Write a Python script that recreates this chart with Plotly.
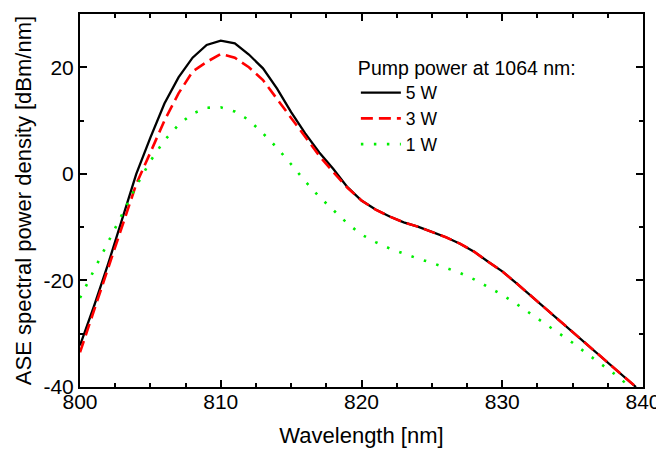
import plotly.graph_objects as go

wavelength = [800, 801, 802, 803, 804, 805, 806, 807, 808, 809, 810, 811, 812, 813, 814, 815,
              816, 817, 818, 819, 820, 821, 822, 823, 824, 825, 826, 827, 828, 829, 830, 831,
              832, 833, 834, 835, 836, 837, 838, 839, 839.5]
p5w = [-32.2, -24.8, -16.9, -8.5, 0.0, 6.8, 13.2, 18.1, 21.8, 24.2, 25.0, 24.5, 22.4, 19.8, 16.0,
       11.6, 7.6, 4.0, 0.9, -2.5, -5.0, -6.7, -8.0, -9.1, -9.9, -10.9, -11.9, -13.1, -14.6, -16.5,
       -18.3, -20.5, -22.8, -25.0, -27.3, -29.6, -31.9, -34.2, -36.5, -38.8, -40.0]
p3w = [-33.5, -25.5, -17.9, -9.5, -1.9, 4.0, 10.0, 15.1, 19.2, 21.0, 22.5, 21.8, 20.0, 17.6, 14.0,
       10.5, 6.8, 3.4, 0.3, -2.6, -5.0, -6.7, -8.0, -9.1, -9.9, -10.9, -11.9, -13.1, -14.6, -16.5,
       -18.3, -20.5, -22.8, -25.0, -27.3, -29.6, -31.9, -34.2, -36.5, -38.8, -40.0]
wavelength_1w = [800, 801, 802, 803, 804, 805, 806, 807, 808, 809, 810, 811, 812, 813, 814, 815,
                 816, 817, 818, 819, 820, 821, 822, 823, 824, 825, 826, 827, 828, 829, 830, 831,
                 832, 833, 834, 835, 836, 837, 838, 839]
p1w = [-23.3, -18.0, -12.6, -7.4, -2.3, 2.4, 6.3, 9.2, 11.3, 12.4, 12.5, 11.7, 10.1, 7.6, 4.9, 1.8,
       -1.4, -4.3, -6.9, -9.3, -11.4, -12.8, -14.0, -15.0, -15.9, -16.7, -17.6, -18.6, -19.8, -21.3,
       -22.7, -24.4, -26.2, -28.0, -29.9, -31.7, -33.7, -35.6, -37.6, -39.8]

x_ticks = [800, 810, 820, 830, 840]
x_ticktext = ["800", "810", "820", "830", "840"]
x_minor = [802.5, 805, 807.5, 812.5, 815, 817.5, 822.5, 825, 827.5, 832.5, 835, 837.5]
y_ticks = [-40, -20, 0, 20]
y_ticktext = ["-40", "-20", "0", "20"]
y_minor = [-30, -10, 10, 30]

FONT = "Liberation Sans, Arial, sans-serif"

fig = go.Figure()
fig.add_trace(go.Scatter(x=wavelength, y=p5w, mode="lines", name="5 W",
                         line=dict(color="black", width=2.3)))
fig.add_trace(go.Scatter(x=wavelength, y=p3w, mode="lines", name="3 W",
                         line=dict(color="#ff0000", width=2.6, dash="12px,6px")))
fig.add_trace(go.Scatter(x=wavelength_1w, y=p1w, mode="lines", name="1 W",
                         line=dict(color="#00ee00", width=2.6, dash="2.5px,10.5px")))

axis_common = dict(showline=True, linewidth=2, linecolor="black", mirror="allticks",
                   ticks="inside", ticklen=7, tickwidth=1.5, tickcolor="black",
                   showgrid=False, zeroline=False, automargin=False,
                   tickfont=dict(family=FONT, size=21, color="black"))

fig.update_xaxes(range=[800, 840], tickvals=x_ticks, ticktext=x_ticktext,
                 ticklabelstandoff=-5,
                 minor=dict(tickvals=x_minor, ticks="inside", ticklen=4, tickwidth=1.5,
                            tickcolor="black"),
                 title=dict(text="Wavelength [nm]", font=dict(family=FONT, size=22, color="black"),
                            standoff=15),
                 **axis_common)
fig.update_yaxes(range=[-40, 30], tickvals=y_ticks, ticktext=y_ticktext,
                 minor=dict(tickvals=y_minor, ticks="inside", ticklen=4, tickwidth=1.5,
                            tickcolor="black"),
                 title=dict(text="ASE spectral power density [dBm/nm]",
                            font=dict(family=FONT, size=22, color="black"), standoff=6),
                 **axis_common)

fig.update_layout(
    width=656, height=444,
    margin=dict(l=72, r=21, t=6, b=65),
    paper_bgcolor="white", plot_bgcolor="white",
    font=dict(family=FONT, color="black"),
    legend=dict(x=0.49, y=0.905, xanchor="left", yanchor="top",
                title=dict(text="Pump power at 1064 nm:", font=dict(family=FONT, size=19.5)),
                font=dict(family=FONT, size=17.5, color="black"),
                bgcolor="rgba(0,0,0,0)", itemwidth=40, tracegroupgap=0),
    showlegend=True,
)

fig.write_html("out.html")
